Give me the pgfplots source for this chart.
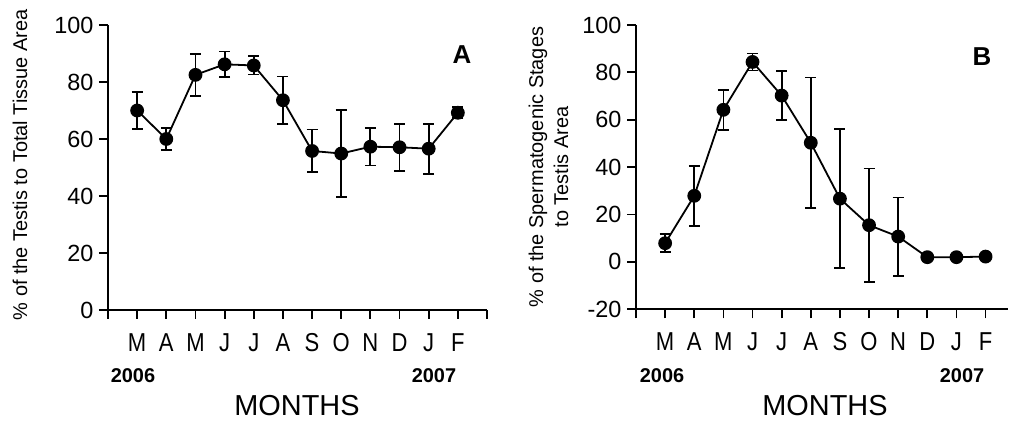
\documentclass[border=0pt]{standalone}
\usepackage{fontspec}
\setmainfont{Liberation Sans}
\newfontfamily\narrowsans[FakeStretch=0.85]{Liberation Sans}
\usepackage{pgfplots}
\pgfplotsset{compat=1.18}

\pgfplotsset{
  panel/.style={
    scale only axis,
    xmin=-1, xmax=12,
    axis x line=bottom, axis y line=left,
    axis line style={-, line width=1.8bp},
    every tick/.style={black, line width=1.8bp},
    major tick length=9bp,
    tick align=outside,
    xtick={-1,0,...,12},
    xticklabels={{},M,A,M,J,J,A,S,O,N,D,J,F,{}},
    xticklabel style={font=\narrowsans\fontsize{26}{26}\selectfont,
      text height=18.6bp, text depth=0pt, yshift=-10bp},
    yticklabel style={font=\fontsize{23.5}{23.5}\selectfont, xshift=-2bp},
    clip=false,
  },
  series/.style={
    black, line width=1.8bp, mark=*, mark size=6bp,
    mark options={solid, fill=black},
    error bars/.cd, y dir=both, y explicit,
    error bar style={line width=1.8bp, black},
    error mark options={line width=1.8bp, mark size=5.5bp, black, rotate=90},
  },
}

\begin{document}
\begin{tikzpicture}
\useasboundingbox (0,0) rectangle (1010bp,429bp);

% Panel A: testis area
\begin{axis}[panel, at={(108bp,119bp)}, anchor=south west,
  width=379bp, height=285bp,
  ymin=0, ymax=100, ytick={0,20,...,100},
  yticklabels={0,20,40,60,80,100}]
\addplot+[series] coordinates {
  (0,70.0)  +- (0,6.4)
  (1,60.0)  +- (0,3.8)
  (2,82.5)  +- (0,7.3)
  (3,86.2)  +- (0,4.5)
  (4,85.8)  +- (0,3.2)
  (5,73.6)  +- (0,8.3)
  (6,55.8)  +- (0,7.5)
  (7,54.9)  +- (0,15.3)
  (8,57.3)  +- (0,6.6)
  (9,57.1)  +- (0,8.2)
  (10,56.6) +- (0,8.8)
  (11,69.2) +- (0,1.9)
};
\end{axis}

% Panel B: spermatogenic stages
\begin{axis}[panel, at={(636bp,119.7bp)}, anchor=south west,
  width=372bp, height=284.3bp, xmax=11.77,
  ymin=-20, ymax=100, ytick={-20,0,...,100},
  yticklabels={-20,0,20,40,60,80,100}]
\addplot+[series] coordinates {
  (0,7.9)   +- (0,3.8)
  (1,27.9)  +- (0,12.6)
  (2,64.2)  +- (0,8.4)
  (3,84.4)  +- (0,3.6)
  (4,70.2)  +- (0,10.3)
  (5,50.3)  +- (0,27.5)
  (6,26.7)  +- (0,29.3)
  (7,15.5)  +- (0,23.9)
  (8,10.7)  +- (0,16.5)
  (9,2.0)   +- (0,0)
  (10,2.0)  +- (0,0)
  (11,2.25) +- (0,0)
};
\end{axis}

% Axis titles, years and panel letters
\node[rotate=90, font=\fontsize{20}{20}\selectfont] at (20bp,264bp)
  {\% of the Testis to Total Tissue Area};
\node[rotate=90, align=center, font=\fontsize{20}{25}\selectfont] at (548.5bp,262bp)
  {\% of the Spermatogenic Stages\\to Testis Area};

\node[font=\bfseries\fontsize{20}{20}\selectfont] at (133bp,53bp) {2006};
\node[font=\bfseries\fontsize{20}{20}\selectfont] at (434bp,53bp) {2007};
\node[font=\bfseries\fontsize{20}{20}\selectfont] at (662bp,53bp) {2006};
\node[font=\bfseries\fontsize{20}{20}\selectfont] at (962bp,53bp) {2007};

\node[font=\fontsize{29}{29}\selectfont] at (297bp,23bp) {MONTHS};
\node[font=\fontsize{29}{29}\selectfont] at (825bp,23bp) {MONTHS};

\node[font=\bfseries\fontsize{26}{26}\selectfont] at (462bp,374bp) {A};
\node[font=\bfseries\fontsize{26}{26}\selectfont] at (982bp,372bp) {B};
\end{tikzpicture}
\end{document}
